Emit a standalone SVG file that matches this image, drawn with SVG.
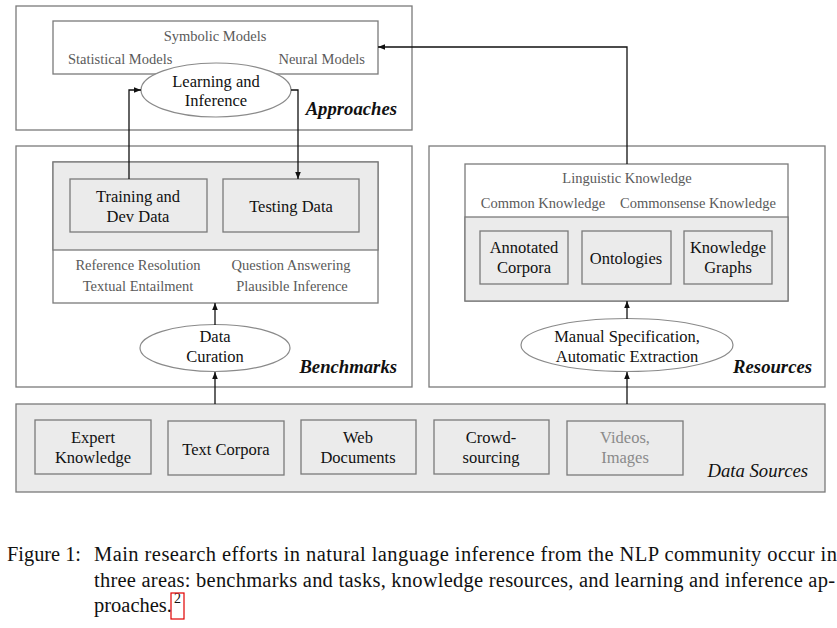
<svg xmlns="http://www.w3.org/2000/svg" width="837" height="628" viewBox="0 0 837 628">
<style>
text{font-family:'Liberation Serif','Times New Roman','DejaVu Serif',serif}
.outer{fill:#fff;stroke:#7a7a7a;stroke-width:1.3}
.gbox{fill:#ebebeb;stroke:#7a7a7a;stroke-width:1.3}
.wbox{fill:#fff;stroke:#7a7a7a;stroke-width:1.3}
.ell{fill:#fff;stroke:#8a8a8a;stroke-width:1.2}
.t{font-size:16.5px;fill:#111;text-anchor:middle}
.g{font-size:14.5px;fill:#5a5a5a;text-anchor:middle}
.bi{font-size:18.7px;font-weight:bold;font-style:italic;fill:#111}
.it{font-size:18.7px;font-style:italic;fill:#111}
.cap{font-size:20.5px;fill:#111}
.conn{fill:none;stroke:#111;stroke-width:1.3}
</style>
<defs>
<marker id="ah" viewBox="0 0 10 10" refX="10" refY="5" markerWidth="7" markerHeight="7" orient="auto" markerUnits="userSpaceOnUse">
<path d="M0,1 L10,5 L0,9 z" fill="#111"/>
</marker>
</defs>

<g id="approaches">
<rect class="outer" x="16" y="6" width="396" height="124"/>
<text class="bi" x="397" y="115" style="text-anchor:end">Approaches</text>
</g>
<g id="models">
<rect class="wbox" x="53" y="21" width="325" height="53"/>
<text class="g" x="215" y="41">Symbolic Models</text>
<text class="g" x="68" y="64" style="text-anchor:start">Statistical Models</text>
<text class="g" x="365" y="64" style="text-anchor:end">Neural Models</text>
</g>
<g id="learning">
<ellipse class="ell" cx="216" cy="90" rx="75" ry="27"/>
<text class="t" x="216" y="87">Learning and</text>
<text class="t" x="216" y="106">Inference</text>
</g>

<g id="benchmarks">
<rect class="outer" x="16" y="146" width="396" height="241"/>
<text class="bi" x="397" y="373" style="text-anchor:end">Benchmarks</text>
</g>
<g id="benchdata">
<rect class="wbox" x="53" y="162" width="325" height="141"/>
<rect x="53" y="162" width="325" height="88" fill="#ebebeb" stroke="#7a7a7a" stroke-width="1.3"/>
<text class="g" x="138" y="270">Reference Resolution</text>
<text class="g" x="291" y="270">Question Answering</text>
<text class="g" x="138" y="291">Textual Entailment</text>
<text class="g" x="292" y="291">Plausible Inference</text>
</g>
<g id="training">
<rect class="gbox" x="70" y="179" width="137" height="53"/>
<text class="t" x="138" y="202">Training and</text>
<text class="t" x="138" y="222">Dev Data</text>
</g>
<g id="testing">
<rect class="gbox" x="223" y="179" width="136" height="53"/>
<text class="t" x="291" y="212">Testing Data</text>
</g>
<g id="curation">
<ellipse class="ell" cx="215" cy="348" rx="75" ry="23.5"/>
<text class="t" x="215" y="342">Data</text>
<text class="t" x="215" y="362">Curation</text>
</g>

<g id="resources">
<rect class="outer" x="429" y="146" width="396" height="241"/>
<text class="bi" x="812" y="373" style="text-anchor:end">Resources</text>
</g>
<g id="knowledge">
<rect class="wbox" x="465" y="164" width="323" height="137"/>
<rect x="465" y="217" width="323" height="84" fill="#ebebeb" stroke="#7a7a7a" stroke-width="1.3"/>
<text class="g" x="627" y="183">Linguistic Knowledge</text>
<text class="g" x="543" y="208">Common Knowledge</text>
<text class="g" x="698" y="208">Commonsense Knowledge</text>
</g>
<g id="annotated">
<rect class="gbox" x="480" y="231" width="88" height="53"/>
<text class="t" x="524" y="253">Annotated</text>
<text class="t" x="524" y="273">Corpora</text>
</g>
<g id="ontologies">
<rect class="gbox" x="582" y="231" width="89" height="53"/>
<text class="t" x="626" y="264">Ontologies</text>
</g>
<g id="kgraphs">
<rect class="gbox" x="684" y="231" width="88" height="53"/>
<text class="t" x="728" y="253">Knowledge</text>
<text class="t" x="728" y="273">Graphs</text>
</g>
<g id="extraction">
<ellipse class="ell" cx="627" cy="345" rx="106" ry="26.5"/>
<text class="t" x="627" y="342">Manual Specification,</text>
<text class="t" x="627" y="362">Automatic Extraction</text>
</g>

<g id="datasources">
<rect class="gbox" x="16" y="404" width="809" height="88"/>
<text class="it" x="808" y="477" style="text-anchor:end">Data Sources</text>
</g>
<g id="expert">
<rect class="gbox" x="35" y="420" width="116" height="54"/>
<text class="t" x="93" y="443">Expert</text>
<text class="t" x="93" y="463">Knowledge</text>
</g>
<g id="textcorpora">
<rect class="gbox" x="168" y="421" width="116" height="54"/>
<text class="t" x="226" y="455">Text Corpora</text>
</g>
<g id="web">
<rect class="gbox" x="301" y="420" width="115" height="54"/>
<text class="t" x="358" y="443">Web</text>
<text class="t" x="358" y="463">Documents</text>
</g>
<g id="crowd">
<rect class="gbox" x="434" y="420" width="115" height="54"/>
<text class="t" x="491" y="443">Crowd-</text>
<text class="t" x="491" y="463">sourcing</text>
</g>
<g id="videos">
<rect class="gbox" x="567" y="421" width="116" height="54"/>
<text class="t" x="625" y="443" style="fill:#8a8a8a">Videos,</text>
<text class="t" x="625" y="463" style="fill:#8a8a8a">Images</text>
</g>

<g id="connectors">
<polyline class="conn" points="129,179 129,90 141,90" marker-end="url(#ah)"/>
<polyline class="conn" points="291,90 298,90 298,179" marker-end="url(#ah)"/>
<line class="conn" x1="215" y1="325" x2="215" y2="303" marker-end="url(#ah)"/>
<line class="conn" x1="215" y1="404" x2="215" y2="372" marker-end="url(#ah)"/>
<line class="conn" x1="627" y1="319" x2="627" y2="301" marker-end="url(#ah)"/>
<line class="conn" x1="627" y1="404" x2="627" y2="372" marker-end="url(#ah)"/>
<polyline class="conn" points="627,164 627,47 378,47" marker-end="url(#ah)"/>
</g>

<g id="caption">
<text class="cap" x="7" y="561" textLength="74" lengthAdjust="spacingAndGlyphs">Figure 1:</text>
<text class="cap" x="94" y="561" textLength="743" lengthAdjust="spacing">Main research efforts in natural language inference from the NLP community occur in</text>
<text class="cap" x="94" y="587" textLength="741" lengthAdjust="spacing">three areas: benchmarks and tasks, knowledge resources, and learning and inference ap-</text>
<text class="cap" x="94" y="612">proaches.</text>
<text class="cap" x="174" y="603" style="font-size:14px">2</text>
<rect x="171" y="593" width="13" height="26" fill="none" stroke="#e00000" stroke-width="1.2"/>
</g>
</svg>
